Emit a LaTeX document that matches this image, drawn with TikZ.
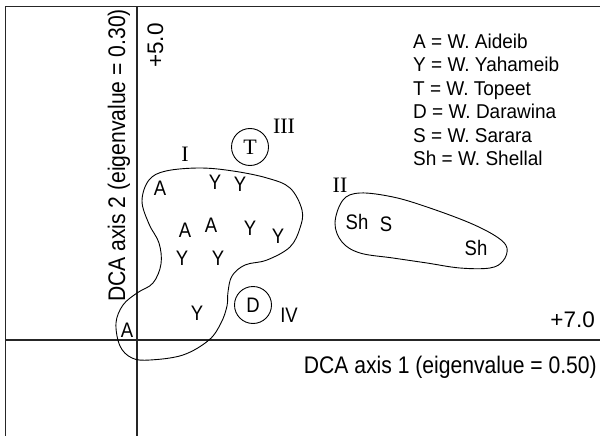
\documentclass[tikz,border=0pt]{standalone}
\usepackage{fontspec}
\setmainfont{Liberation Sans}
\newfontfamily\romfont{Liberation Serif}
\newfontfamily\condfont{Liberation Sans}[FakeStretch=0.88]
\newfontfamily\legfont{Liberation Sans}[FakeStretch=0.95]
\begin{document}
\begin{tikzpicture}[x=1pt,y=-1pt,
  axisline/.style={line width=1.2pt,draw=black!85},
  blob/.style={line width=0.9pt,draw=black},
  lbl/.style={inner sep=0pt,font=\condfont\fontsize{24}{28}\selectfont},
  num/.style={inner sep=0pt,font=\fontsize{22.5}{26}\selectfont},
  pt/.style={inner sep=0pt,font=\condfont\fontsize{21}{24}\selectfont},
  leg/.style={inner sep=0pt,anchor=base west,font=\legfont\fontsize{20}{24}\selectfont},
  rom/.style={inner sep=0pt,font=\romfont\fontsize{22}{26}\selectfont},
  ring/.style={circle,draw,line width=0.9pt,inner sep=0pt,minimum size=37pt,font=\condfont\fontsize{21}{24}\selectfont}]
\useasboundingbox (0,0) rectangle (600,436);
% frame and axes
\coordinate (tl) at (5.5,6.5);
\coordinate (tr) at (600,6.5);
\coordinate (bl) at (5.5,436);
\coordinate (vt) at (137,6.5);
\coordinate (vb) at (137,436);
\coordinate (hl) at (5.5,340);
\coordinate (hr) at (600,340);
\draw[axisline] (bl) -- (tl) -- (tr);
\draw[axisline] (vt) -- (vb);
\draw[axisline] (hl) -- (hr);
% axis labels
\node[lbl,rotate=90,anchor=base] (ax2) at (125,155.5) {DCA axis 2 (eigenvalue = 0.30)};
\node[num,rotate=90,anchor=base west] (p5) at (163,68) {+5.0};
\node[lbl,anchor=base east] (ax1) at (597,373) {DCA axis 1 (eigenvalue = 0.50)};
\node[num,anchor=base east] (p7) at (595,327) {+7.0};
% legend
\node[leg] (l1) at (413,48.5) {A = W. Aideib};
\node[leg] (l2) at (413,71.9) {Y = W. Yahameib};
\node[leg] (l3) at (413,95.3) {T = W. Topeet};
\node[leg] (l4) at (413,118.7) {D = W. Darawina};
\node[leg] (l5) at (413,142.1) {S = W. Sarara};
\node[leg] (l6) at (413,165.5) {Sh = W. Shellal};
% blob I
\draw[blob] plot[smooth cycle,tension=0.6] coordinates {
 (166,171) (200,168) (233,171) (267,178) (290,188) (302,210) (300,228)
 (290,247) (267,260) (245,265) (232,276) (228,292) (227,306) (221,323)
 (209,340) (183,355) (150,360) (132,358) (120,346) (116,323) (123,305)
 (137,293) (153,283) (161,264) (159,243) (149,224) (142,201) (149,180)};
% blob II
\draw[blob] plot[smooth cycle,tension=0.6] coordinates {
 (343,200) (360,193) (393,197) (427,207) (470,223) (497,237) (507,248)
 (503,261) (490,268) (460,268) (427,263) (393,258) (360,253) (342,242) (335,223)};
% circled points
\node[ring,font=\romfont\fontsize{22}{26}\selectfont] (T) at (250,147) {T};
\node[ring] (D) at (253,305) {D};
% roman numerals
\node[rom] (rI) at (185,154) {I};
\node[rom] (rIII) at (284,126) {III};
\node[rom] (rII) at (340,185) {II};
\node[pt] (rIV) at (289,315) {IV};
% points group I
\node[pt] (a1) at (160,188) {A};
\node[pt] (y1) at (215,182) {Y};
\node[pt] (y2) at (240,184) {Y};
\node[pt] (a2) at (185,230) {A};
\node[pt] (a3) at (211,225) {A};
\node[pt] (y3) at (250,228) {Y};
\node[pt] (y4) at (278,236) {Y};
\node[pt] (y5) at (182,258) {Y};
\node[pt] (y6) at (218,258) {Y};
\node[pt] (y7) at (197,313) {Y};
\node[pt] (a4) at (127,330) {A};
% points group II
\node[pt] (sh1) at (357,222) {Sh};
\node[pt] (s1) at (386,224) {S};
\node[pt] (sh2) at (476,248) {Sh};
\end{tikzpicture}
\end{document}
